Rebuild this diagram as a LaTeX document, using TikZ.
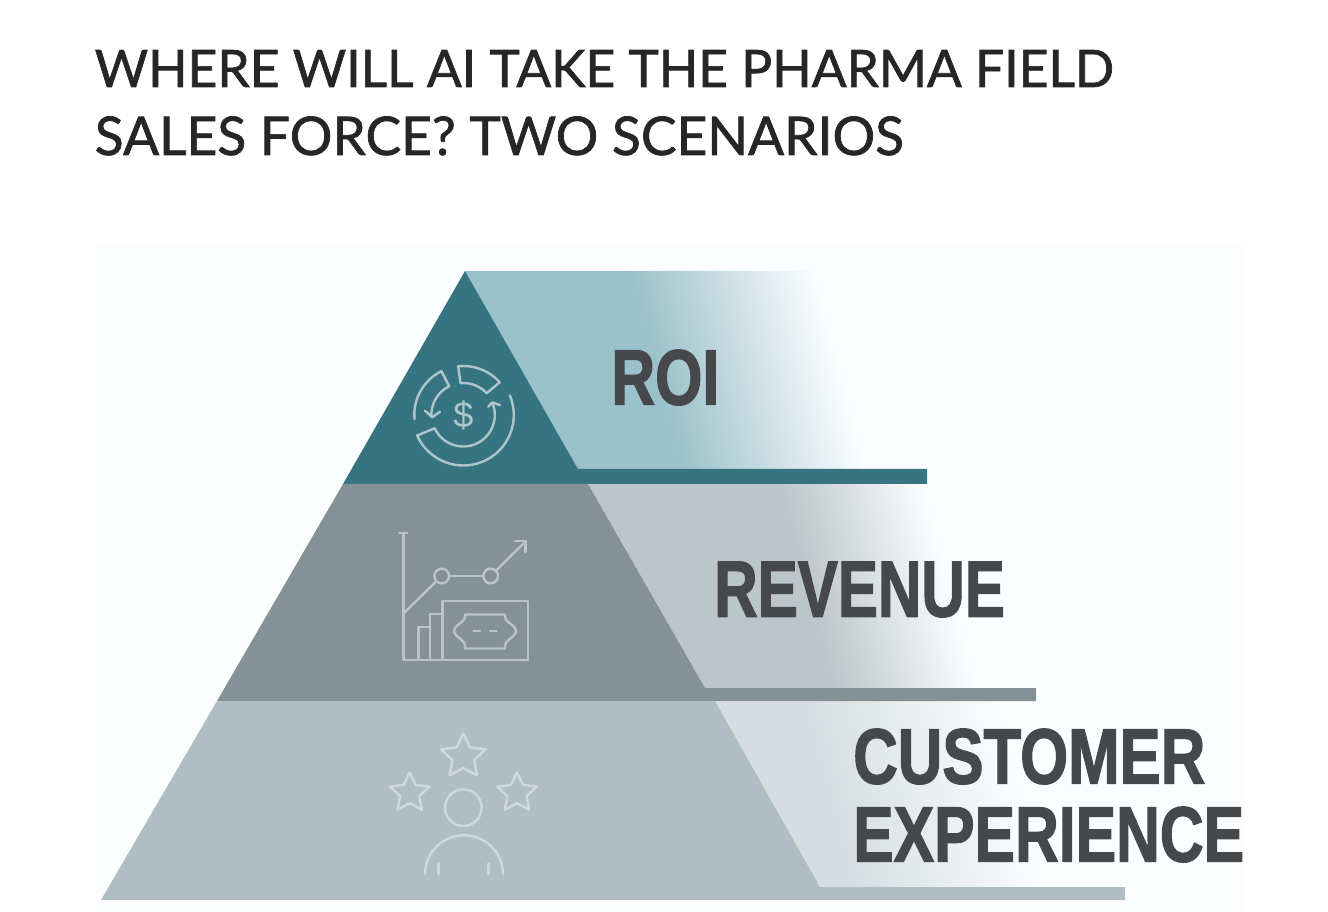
\documentclass[tikz,border=0pt]{standalone}
\usepackage{fontspec}
\usepackage{graphicx}
\usetikzlibrary{shapes.geometric,arrows.meta}
\newfontfamily\titlefont[FakeBold=1.3]{Lato}
\newfontfamily\labelfont[FakeBold=1.9]{Liberation Sans Bold}
\newfontfamily\glyphfont{Liberation Sans}
\definecolor{bgpanel}{HTML}{FCFDFE}
\definecolor{teal}{HTML}{377481}
\definecolor{tealpanel}{HTML}{9BC1CA}
\definecolor{midgray}{HTML}{849196}
\definecolor{midpanel}{HTML}{BCC5C8}
\definecolor{lowgray}{HTML}{AFBEC4}
\definecolor{lowpanel}{HTML}{D5DDE0}
\definecolor{titleink}{HTML}{262626}
\definecolor{labelink}{HTML}{46484C}
\definecolor{iconA}{HTML}{AFC5CB}
\definecolor{iconB}{HTML}{BAC4C8}
\definecolor{iconC}{HTML}{CFD9DC}
\tikzset{
  titleline/.style={anchor=base west,inner sep=0pt,text=titleink,font=\titlefont},
  tierlabel/.style={anchor=base west,inner sep=0pt,text=labelink,font=\labelfont},
  iconline/.style={line width=1.8pt,line cap=round,line join=round},
  starshape/.style={star,star points=5,star point ratio=2.05,draw,inner sep=0pt,line width=1.8pt,line join=round},
}
\begin{document}
\begin{tikzpicture}[x=0.75pt,y=-0.75pt]
\useasboundingbox (0,0) rectangle (1328,912);
\fill[white] (0,0) rectangle (1328,912);
\fill[bgpanel] (95,245) rectangle (1245,912);

% ROI panel
\begin{scope}
\clip (465,271) -- (1300,271) -- (1300,469) -- (578,469) -- cycle;
\fill[tealpanel] (465,271) -- (634,271) -- (686,469) -- (578,469) -- cycle;
\begin{scope}[transform canvas={xslant=-0.26}]
\shade[left color=tealpanel,middle color=tealpanel!58!bgpanel,right color=bgpanel] (560,250) rectangle (745,490);
\end{scope}
\end{scope}
% Revenue panel
\begin{scope}
\clip (588,484) -- (1300,484) -- (1300,688) -- (705,688) -- cycle;
\fill[midpanel] (588,484) -- (784,484) -- (837,688) -- (705,688) -- cycle;
\begin{scope}[transform canvas={xslant=-0.26}]
\shade[left color=midpanel,middle color=midpanel!62!bgpanel,right color=bgpanel] (654,470) rectangle (798,700);
\end{scope}
\end{scope}
% Customer panel
\begin{scope}
\clip (715,701) -- (1300,701) -- (1300,887) -- (820,887) -- cycle;
\fill[lowpanel] (715,701) -- (804,701) -- (853,887) -- (820,887) -- cycle;
\begin{scope}[transform canvas={xslant=-0.26}]
\shade[left color=lowpanel,right color=bgpanel] (618,690) rectangle (815,900);
\end{scope}
\end{scope}

% Pyramid tiers
\fill[teal] (465,271) -- (578,469) -- (927,469) -- (927,484) -- (343,484) -- cycle;
\fill[midgray] (343,484) -- (588,484) -- (705,688) -- (1036,688) -- (1036,701) -- (217,701) -- cycle;
\fill[lowgray] (217,701) -- (715,701) -- (820,887) -- (1125,887) -- (1125,900) -- (101,900) -- cycle;

% Title
\node[titleline] (title1) at (94.5,87) {\resizebox{764pt}{!}{WHERE WILL AI TAKE THE PHARMA FIELD}};
\node[titleline] (title2) at (94.5,155) {\resizebox{606.5pt}{!}{SALES FORCE? TWO SCENARIOS}};

% Labels
\node[tierlabel] (roi) at (611,404.5) {\resizebox{81pt}{41pt}{ROI}};
\node[tierlabel] (revenue) at (714,616.5) {\resizebox{218pt}{41pt}{REVENUE}};
\node[tierlabel] (customer) at (853,783.5) {\resizebox{264pt}{41pt}{CUSTOMER}};
\node[tierlabel] (experience) at (853,861.5) {\resizebox{293pt}{41pt}{EXPERIENCE}};

% ROI icon
\begin{scope}[shift={(463.3,415)},draw=iconA]
\draw[iconline] (-23:50.5) arc[start angle=-23,end angle=156,radius=50.5] -- (155:31.5) arc[start angle=155,end angle=-23,radius=31.5];
\draw[iconline] (25,-8.3) -- (29,-12.5) -- (36.7,-10);
\draw[iconline] (-96:49) arc[start angle=-96,end angle=-42,radius=49] -- (-43:32) arc[start angle=-43,end angle=-95,radius=32] -- cycle;
\draw[iconline] (-116.6:49) arc[start angle=-116.6,end angle=-185,radius=49];
\draw[iconline] (-116.6:49) -- (-116:32) arc[start angle=-116,end angle=-183,radius=32];
\draw[iconline] (-38.3,-4.3) -- (-31,2.3) -- (-23.3,-3.3);
\node[inner sep=0pt,text=iconA] (dollar) at (0,0) {\glyphfont\fontsize{27pt}{27pt}\selectfont\$};
\end{scope}

% Revenue icon
\begin{scope}[draw=iconB]
\draw[iconline] (399.5,533) -- (407.5,533);
\draw[iconline] (403.3,533) -- (403.3,660) -- (528,660);
\node[circle,draw,iconline,minimum size=11pt,inner sep=0pt] (ptA) at (441.7,576) {};
\node[circle,draw,iconline,minimum size=11pt,inner sep=0pt] (ptB) at (490.7,576) {};
\coordinate (trendstart) at (404,613);
\coordinate (trendend) at (525.5,541.5);
\draw[iconline] (trendstart) -- (ptA);
\draw[iconline] (ptA) -- (ptB);
\draw[iconline] (ptB) -- (trendend);
\draw[iconline] (515,541) -- (525.5,541) -- (525.5,552);
\draw[iconline] (418.5,660) -- (418.5,627) -- (430,627);
\draw[iconline] (430,660) -- (430,614) -- (442.5,614);
\draw[iconline] (442.5,660) -- (442.5,601) -- (527.7,601) -- (527.7,660);
\draw[iconline] (465,614.5) -- (505,614.5) .. controls (504,624) and (514,622) .. (516,631) .. controls (514,640) and (504,638) .. (505,648.5) -- (465,648.5) .. controls (466,638) and (456,640) .. (454,631) .. controls (456,622) and (466,624) .. (465,614.5) -- cycle;
\draw[iconline] (473.5,630.7) -- (480,630.7);
\draw[iconline] (490,630.7) -- (496.5,630.7);
\end{scope}

% Customer icon
\begin{scope}[draw=iconC]
\node[starshape,minimum size=35pt] (starT) at (463.3,756.6) {};
\node[starshape,minimum size=31pt] (starL) at (409.7,793) {};
\node[starshape,minimum size=31pt] (starR) at (517,793) {};
\node[circle,draw,iconline,minimum size=27.5pt,inner sep=0pt] (head) at (463.3,807.7) {};
\draw[iconline] (425,874.3) arc[start angle=180,end angle=360,radius=39];
\draw[iconline] (438.5,863.5) -- (438.5,874.3);
\draw[iconline] (488.5,863.5) -- (488.5,874.3);
\end{scope}
\end{tikzpicture}
\end{document}
